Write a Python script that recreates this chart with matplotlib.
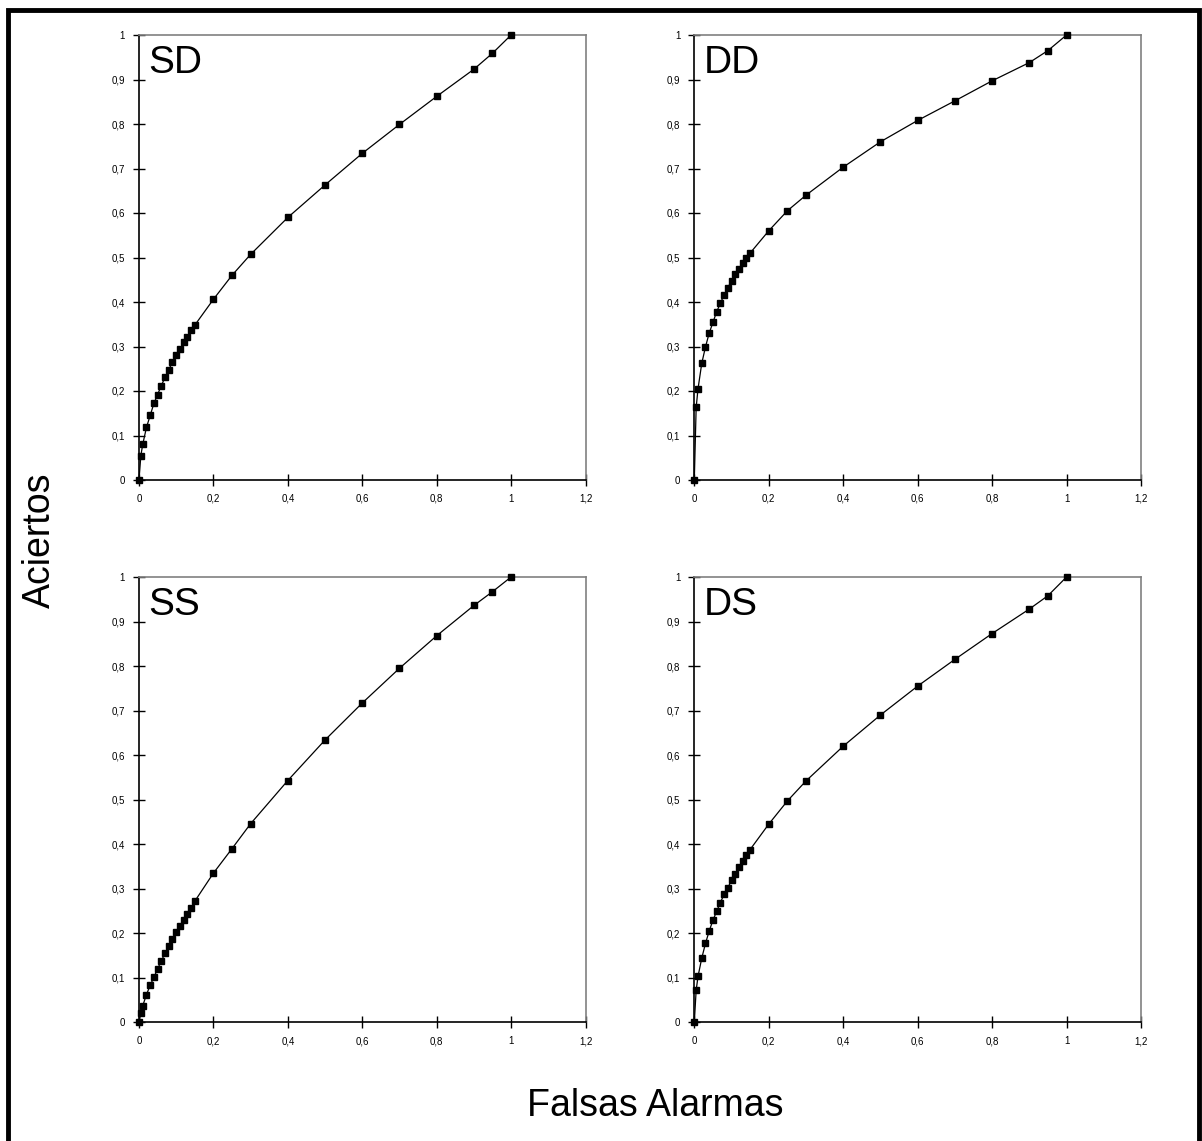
import matplotlib
matplotlib.use("Agg")
import matplotlib.pyplot as plt
from matplotlib.patches import Rectangle

plt.rcParams['font.family'] = ['Liberation Sans', 'DejaVu Sans']

# False-alarm rates (shared x values)
fa = [0, 0.005, 0.01, 0.02, 0.03, 0.04, 0.05, 0.06, 0.07, 0.08, 0.09, 0.10,
      0.11, 0.12, 0.13, 0.14, 0.15, 0.2, 0.25, 0.3, 0.4, 0.5, 0.6, 0.7,
      0.8, 0.9, 0.95, 1.0]

hits_SD = [0, 0.055, 0.08, 0.118, 0.145, 0.172, 0.192, 0.212, 0.231, 0.248,
           0.265, 0.28, 0.294, 0.309, 0.322, 0.336, 0.348, 0.406, 0.46, 0.507,
           0.59, 0.663, 0.734, 0.799, 0.862, 0.923, 0.959, 1.0]
hits_DD = [0, 0.163, 0.205, 0.262, 0.299, 0.33, 0.354, 0.378, 0.397, 0.416,
           0.432, 0.448, 0.462, 0.475, 0.487, 0.498, 0.51, 0.56, 0.605, 0.64,
           0.703, 0.76, 0.808, 0.852, 0.897, 0.938, 0.965, 1.0]
hits_SS = [0, 0.022, 0.037, 0.062, 0.083, 0.101, 0.12, 0.138, 0.155, 0.171,
           0.186, 0.202, 0.216, 0.229, 0.243, 0.256, 0.272, 0.335, 0.39, 0.446,
           0.543, 0.634, 0.717, 0.795, 0.868, 0.936, 0.967, 1.0]
hits_DS = [0, 0.072, 0.103, 0.144, 0.177, 0.205, 0.229, 0.249, 0.269, 0.287,
           0.302, 0.319, 0.334, 0.349, 0.362, 0.375, 0.388, 0.445, 0.497, 0.542,
           0.62, 0.69, 0.755, 0.815, 0.873, 0.928, 0.958, 1.0]

panel_names = ["SD", "DD", "SS", "DS"]
panel_hits = [hits_SD, hits_DD, hits_SS, hits_DS]

x_ticks = [0, 0.2, 0.4, 0.6, 0.8, 1.0, 1.2]
x_tick_labels = ["0", "0,2", "0,4", "0,6", "0,8", "1", "1,2"]
y_ticks = [0, 0.1, 0.2, 0.3, 0.4, 0.5, 0.6, 0.7, 0.8, 0.9, 1.0]
y_tick_labels = ["0", "0,1", "0,2", "0,3", "0,4", "0,5", "0,6", "0,7", "0,8", "0,9", "1"]

W, H = 1202, 1141
fig = plt.figure(figsize=(W / 100, H / 100), dpi=100)

# axes pixel boxes: (left, top, right, bottom)
boxes = [(139, 35, 585.5, 480), (694.3, 35, 1141, 480),
         (139, 577, 585.5, 1022.3), (694.3, 577, 1141, 1022.3)]

for name, hits, (l, t, r, b) in zip(panel_names, panel_hits, boxes):
    ax = fig.add_axes([l / W, 1 - b / H, (r - l) / W, (b - t) / H])
    ax.plot(fa, hits, color='black', linewidth=0.9, marker='s',
            markersize=5, markerfacecolor='black', markeredgecolor='black',
            clip_on=False, zorder=3)
    ax.set_xlim(0, 1.2)
    ax.set_ylim(0, 1)
    ax.set_xticks(x_ticks)
    ax.set_xticklabels(x_tick_labels)
    ax.set_yticks(y_ticks)
    ax.set_yticklabels(y_tick_labels)
    ax.tick_params(direction='inout', length=8, width=1, labelsize=7,
                   pad=6, color='black')
    for s in ['left', 'bottom']:
        ax.spines[s].set_color('black')
        ax.spines[s].set_linewidth(1.2)
    for s in ['top', 'right']:
        ax.spines[s].set_color('#808080')
        ax.spines[s].set_linewidth(1.2)
    ax.text(9 / (r - l) * 1.2, 0.915, name, transform=ax.transData,
            fontsize=28, ha='left', va='baseline')

fig.text(40 / W, 1 - 540 / H, "Aciertos", rotation=90, fontsize=27,
         ha='center', va='center')
fig.text(655 / W, 1 - 1106 / H, "Falsas Alarmas", fontsize=27,
         ha='center', va='center')

# outer frame
fig.add_artist(Rectangle((8 / W, -0.05), (1199 - 8) / W, 1.05 - 10 / H,
                         transform=fig.transFigure, fill=False,
                         edgecolor='black', linewidth=3.5))

fig.savefig("out.png", dpi=100)
